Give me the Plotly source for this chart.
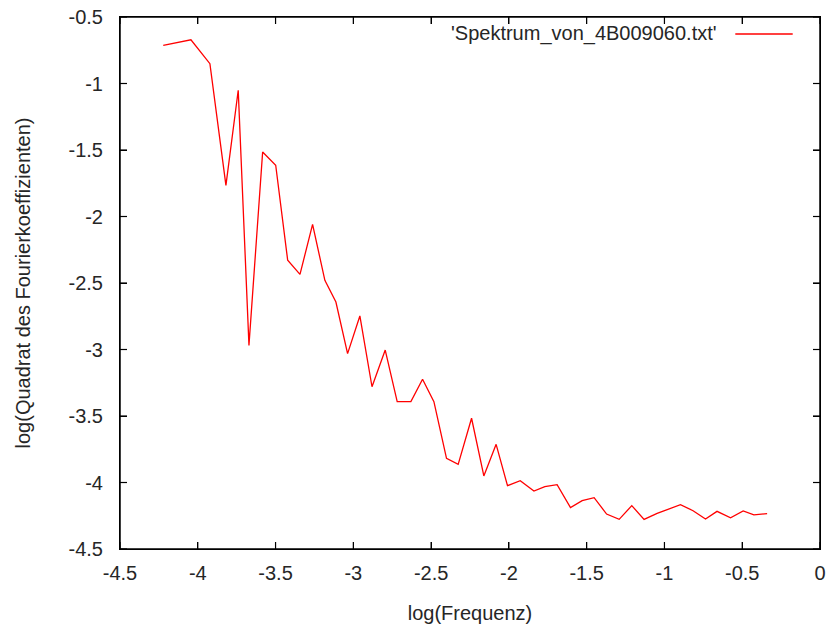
import plotly.graph_objects as go

# Data (log10 frequency vs log10 squared Fourier coefficient)
log_freq = [-4.222, -4.044, -3.922, -3.819, -3.740, -3.671, -3.583, -3.499, -3.422, -3.343,
            -3.262, -3.183, -3.112, -3.037, -2.958, -2.880, -2.795, -2.718, -2.630, -2.555,
            -2.482, -2.401, -2.326, -2.240, -2.161, -2.082, -2.009, -1.927, -1.839, -1.769,
            -1.690, -1.604, -1.529, -1.452, -1.372, -1.291, -1.210, -1.131, -1.047, -0.970,
            -0.897, -0.816, -0.736, -0.662, -0.575, -0.494, -0.425, -0.340]
log_power = [-0.713, -0.671, -0.851, -1.766, -1.051, -2.969, -1.515, -1.615, -2.329, -2.435,
             -2.059, -2.480, -2.643, -3.031, -2.748, -3.280, -3.004, -3.392, -3.392, -3.224,
             -3.392, -3.818, -3.864, -3.517, -3.951, -3.713, -4.024, -3.986, -4.064, -4.031,
             -4.016, -4.189, -4.137, -4.114, -4.237, -4.277, -4.174, -4.277, -4.232, -4.199,
             -4.167, -4.212, -4.274, -4.217, -4.265, -4.214, -4.244, -4.234]

series_name = "'Spektrum_von_4B009060.txt'"
x_ticks = [-4.5, -4, -3.5, -3, -2.5, -2, -1.5, -1, -0.5, 0]
y_ticks = [-0.5, -1, -1.5, -2, -2.5, -3, -3.5, -4, -4.5]

FONT = "Liberation Sans, Arial, sans-serif"
TXT = "#262626"
FRAME = "#000000"
FS = 20
W, H = 828, 625
M = dict(l=120, r=8, t=17, b=76)
TICK_PX = 7

fig = go.Figure()
fig.add_trace(go.Scatter(x=log_freq, y=log_power, mode="lines",
                         line=dict(color="#ff0000", width=1.3),
                         name=series_name, showlegend=False, cliponaxis=False))

axis_common = dict(showline=True, linecolor=FRAME, linewidth=1, mirror="ticks",
                   ticks="inside", ticklen=TICK_PX, tickcolor=FRAME, tickwidth=1,
                   showgrid=False, zeroline=False, automargin=False,
                   tickfont=dict(family=FONT, size=FS, color=TXT))

fig.update_xaxes(range=[-4.5, 0], tickmode="array", tickvals=x_ticks,
                 ticktext=[f"{v:g}" for v in x_ticks],
                 title=dict(text="log(Frequenz)", font=dict(family=FONT, size=FS, color=TXT),
                            standoff=22),
                 ticklabelstandoff=6, **axis_common)
fig.update_yaxes(range=[-4.5, -0.5], tickmode="array", tickvals=y_ticks,
                 ticktext=[f"{v:g}" for v in y_ticks],
                 title=dict(text="log(Quadrat des Fourierkoeffizienten)",
                            font=dict(family=FONT, size=FS, color=TXT), standoff=32),
                 ticklabelstandoff=12, **axis_common)

# gnuplot-style border frame and inward ticks on all four sides (axis decoration)
plot_w = W - M["l"] - M["r"]
plot_h = H - M["t"] - M["b"]
fig.add_shape(type="rect", xref="paper", yref="paper", x0=0, x1=1, y0=0, y1=1,
              line=dict(color=FRAME, width=1.5), layer="above")
tx = TICK_PX / plot_h
ty = TICK_PX / plot_w
for v in x_ticks:
    for y0, y1 in ((0, tx), (1 - tx, 1)):
        fig.add_shape(type="line", xref="x", yref="paper", x0=v, x1=v, y0=y0, y1=y1,
                      line=dict(color=FRAME, width=1.2), layer="above")
for v in y_ticks:
    for x0, x1 in ((0, ty), (1 - ty, 1)):
        fig.add_shape(type="line", xref="paper", yref="y", x0=x0, x1=x1, y0=v, y1=v,
                      line=dict(color=FRAME, width=1.2), layer="above")

# gnuplot-style key: text followed by line sample, top right inside the frame
fig.add_annotation(x=0.856, y=0.969, xref="paper", yref="paper", text=series_name,
                   showarrow=False, xanchor="right", yanchor="middle",
                   font=dict(family=FONT, size=FS, color=TXT))
fig.add_shape(type="line", xref="paper", yref="paper", x0=0.879, x1=0.961, y0=0.968, y1=0.968,
              line=dict(color="#ff0000", width=1.3))

fig.update_layout(template="none", width=W, height=H, plot_bgcolor="white",
                  paper_bgcolor="white", margin=M, showlegend=False,
                  font=dict(family=FONT, size=FS, color=TXT))

fig.write_html("out.html", config={"displayModeBar": False},
               post_script="document.body.style.margin='0';")
